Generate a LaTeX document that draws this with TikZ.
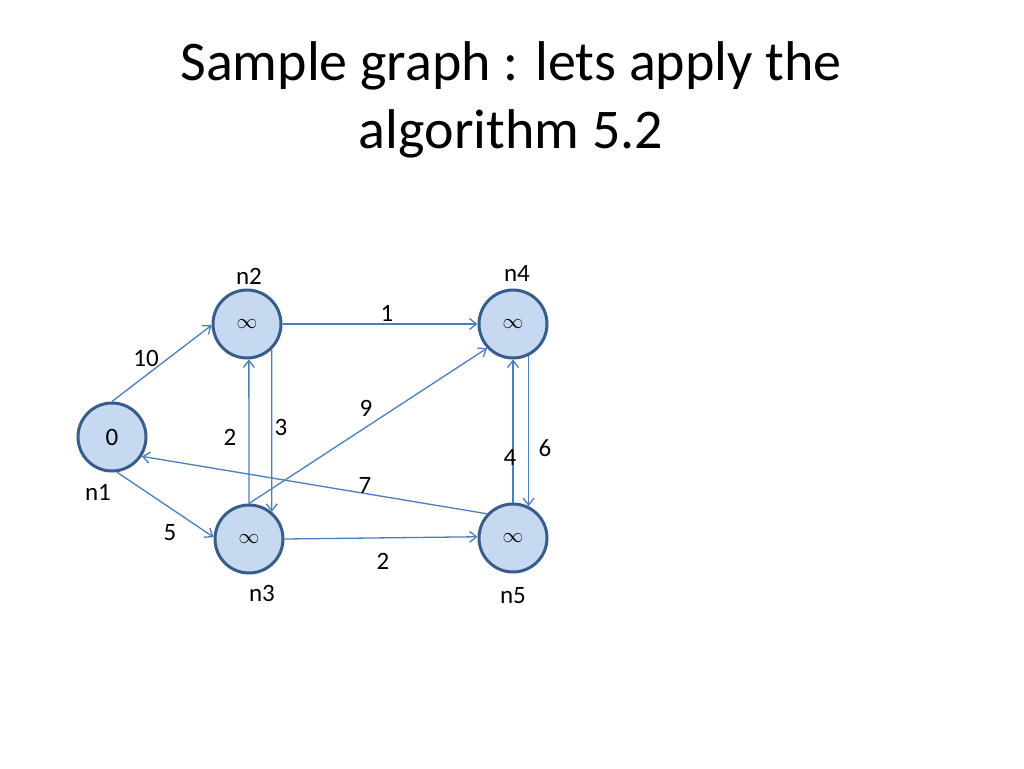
\documentclass[tikz,border=0pt]{standalone}
\usepackage{fontspec}
\setmainfont{Carlito}
\usetikzlibrary{arrows.meta}
\definecolor{edgeblue}{HTML}{4A7EBB}
\definecolor{nodefill}{HTML}{C6D9F1}
\definecolor{nodeline}{HTML}{385D8A}
\newcommand{\infsym}{{\fontsize{20}{24}\selectfont$\infty$}}
\begin{document}
\begin{tikzpicture}[x=1pt,y=-1pt,
  vtx/.style={circle,draw=nodeline,fill=nodefill,line width=3pt,minimum size=68pt,inner sep=0pt,font=\fontsize{25}{30}\selectfont},
  lbl/.style={font=\fontsize{25}{30}\selectfont,inner sep=0pt},
  edge/.style={draw=edgeblue,line width=1.3pt,-{Straight Barb[length=7pt,width=11pt]}}]
\useasboundingbox (0,0) rectangle (1024,768);
\node[font=\fontsize{56}{68}\selectfont,align=center,inner sep=0pt] (title) at (511,100) {Sample graph : lets apply the\\algorithm 5.2};
\node[vtx] (n1) at (112,437) {0};
\node[vtx] (n2) at (247,324) {\infsym};
\node[vtx] (n3) at (249,539) {\infsym};
\node[vtx] (n4) at (513,324) {\infsym};
\node[vtx] (n5) at (513,538) {\infsym};
\node[lbl] (l1) at (98,492) {n1};
\node[lbl] (l2) at (249,276) {n2};
\node[lbl] (l3) at (262,593) {n3};
\node[lbl] (l4) at (517,273) {n4};
\node[lbl] (l5) at (513,596) {n5};
\draw[edge] (n1.90) -- (n2.182);
\draw[edge] (n2.0) -- (n4.180);
\draw[edge] (n3.90) -- (n2.273);
\draw[edge] (n2.-46) -- (n3.50);
\draw[edge] (n3.90) -- (n4.223);
\draw[edge] (n5.137) -- (n1.-33);
\draw[edge] (n1.278) -- (n3.177);
\draw[edge] (n3.0) -- (n5.178);
\draw[edge] (n5.90) -- (n4.270);
\draw[edge] (n4.-64) -- (n5.64);
\node[lbl] (w12) at (146,358) {10};
\node[lbl] (w24) at (387,313) {1};
\node[lbl] (w32) at (230,437) {2};
\node[lbl] (w23) at (281,427) {3};
\node[lbl] (w34) at (366,408) {9};
\node[lbl] (w51) at (365,485) {7};
\node[lbl] (w13) at (170,533) {5};
\node[lbl] (w35) at (383,561) {2};
\node[lbl] (w54) at (510,457) {4};
\node[lbl] (w45) at (545,448) {6};
\end{tikzpicture}
\end{document}
